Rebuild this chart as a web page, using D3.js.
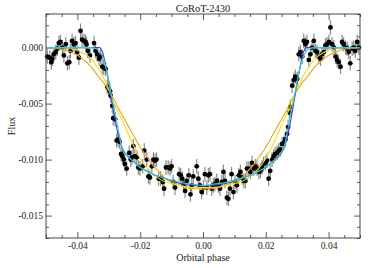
<!DOCTYPE html>
<html>
<head>
<meta charset="utf-8">
<script src="https://cdn.jsdelivr.net/npm/d3@7"></script>
<style>
  html, body { margin: 0; padding: 0; background: #fff; }
  svg { display: block; font-family: "Liberation Serif", "DejaVu Serif", serif; }
</style>
</head>
<body>
<div id="chart"></div>
<script>
// binned light curve (orbital phase, relative flux)
const phase = [
  -0.0496,-0.0488,-0.0483,-0.0480,-0.0475,-0.0469,-0.0464,-0.0459,-0.0454,-0.0448,
  -0.0443,-0.0437,-0.0432,-0.0426,-0.0422,-0.0417,-0.0411,-0.0406,-0.0401,-0.0395,
  -0.0390,-0.0385,-0.0379,-0.0374,-0.0371,-0.0367,-0.0360,-0.0347,-0.0342,-0.0337,
  -0.0331,-0.0326,-0.0321,-0.0316,-0.0310,-0.0305,-0.0300,-0.0296,-0.0294,-0.0289,
  -0.0286,-0.0280,-0.0275,-0.0270,-0.0266,-0.0261,-0.0257,-0.0252,-0.0249,-0.0243,
  -0.0235,-0.0230,-0.0226,-0.0222,-0.0217,-0.0211,-0.0206,-0.0201,-0.0192,-0.0187,
  -0.0179,-0.0174,-0.0169,-0.0163,-0.0158,-0.0153,-0.0148,-0.0141,-0.0135,-0.0128,
  -0.0124,-0.0118,-0.0111,-0.0105,-0.0100,-0.0095,-0.0089,-0.0076,-0.0071,-0.0066,
  -0.0062,-0.0057,-0.0052,-0.0045,-0.0040,-0.0036,-0.0031,-0.0020,-0.0015,-0.0010,
  -0.0004,0.0001,0.0006,0.0012,0.0017,0.0022,0.0028,0.0033,0.0038,0.0044,
  0.0049,0.0054,0.0060,0.0065,0.0070,0.0076,0.0081,0.0086,0.0091,0.0097,
  0.0102,0.0108,0.0114,0.0119,0.0124,0.0130,0.0135,0.0140,0.0146,0.0151,
  0.0156,0.0162,0.0167,0.0172,0.0178,0.0183,0.0188,0.0193,0.0199,0.0204,
  0.0209,0.0214,0.0220,0.0225,0.0230,0.0236,0.0241,0.0246,0.0252,0.0257,
  0.0262,0.0268,0.0271,0.0275,0.0278,0.0284,0.0289,0.0294,0.0300,0.0305,
  0.0310,0.0316,0.0321,0.0326,0.0331,0.0337,0.0342,0.0347,0.0353,0.0358,
  0.0363,0.0369,0.0374,0.0379,0.0385,0.0390,0.0395,0.0401,0.0406,0.0411,
  0.0417,0.0422,0.0427,0.0432,0.0438,0.0443,0.0448,0.0454,0.0459,0.0464,
  0.0469,0.0475,0.0480,0.0485,0.0491,0.0496
];
const flux = [
  -0.0008,-0.0009,-0.0013,-0.0010,-0.0006,-0.0004,-0.0001,0.0004,0.0005,0.0000,
  -0.0007,0.0003,-0.0014,-0.0013,-0.0003,0.0006,0.0003,0.0004,-0.0004,-0.0009,
  0.0015,0.0007,0.0006,0.0005,0.0003,-0.0003,-0.0007,0.0004,-0.0003,-0.0006,
  -0.0010,-0.0008,-0.0017,-0.0018,-0.0019,-0.0035,-0.0037,-0.0039,-0.0043,-0.0052,
  -0.0063,-0.0064,-0.0083,-0.0082,-0.0084,-0.0095,-0.0097,-0.0100,-0.0104,-0.0108,
  -0.0094,-0.0100,-0.0098,-0.0088,-0.0097,-0.0098,-0.0107,-0.0108,-0.0106,-0.0092,
  -0.0100,-0.0115,-0.0116,-0.0106,-0.0100,-0.0101,-0.0100,-0.0117,-0.0117,-0.0120,
  -0.0126,-0.0107,-0.0107,-0.0108,-0.0106,-0.0120,-0.0125,-0.0113,-0.0114,-0.0117,
  -0.0122,-0.0128,-0.0119,-0.0114,-0.0131,-0.0123,-0.0115,-0.0106,-0.0117,-0.0123,
  -0.0129,-0.0125,-0.0113,-0.0125,-0.0114,-0.0113,-0.0126,-0.0123,-0.0122,-0.0119,
  -0.0123,-0.0126,-0.0120,-0.0111,-0.0119,-0.0134,-0.0135,-0.0126,-0.0113,-0.0129,
  -0.0120,-0.0123,-0.0114,-0.0111,-0.0116,-0.0119,-0.0119,-0.0108,-0.0108,-0.0111,
  -0.0103,-0.0108,-0.0106,-0.0108,-0.0111,-0.0110,-0.0107,-0.0104,-0.0103,-0.0101,
  -0.0117,-0.0110,-0.0100,-0.0097,-0.0095,-0.0094,-0.0092,-0.0091,-0.0086,-0.0085,
  -0.0082,-0.0077,-0.0071,-0.0058,-0.0053,-0.0034,-0.0029,-0.0026,-0.0028,-0.0006,
  -0.0004,-0.0008,0.0006,0.0003,0.0005,-0.0011,-0.0006,0.0000,0.0006,-0.0003,
  -0.0004,-0.0008,-0.0010,-0.0006,-0.0004,0.0002,0.0003,0.0005,0.0018,0.0003,
  0.0000,-0.0008,-0.0011,-0.0013,-0.0017,0.0005,0.0003,0.0000,-0.0001,-0.0004,
  -0.0014,-0.0001,0.0000,-0.0003,0.0005,0.0000
];
const fluxErr = 0.00065;

// model transit curves sampled on a common phase grid
const modelPhase = [
  -0.050,-0.046,-0.042,-0.038,-0.036,-0.034,-0.033,-0.032,-0.031,-0.030,-0.029,-0.028,-0.027,
  -0.026,-0.025,-0.024,-0.022,-0.020,-0.018,-0.016,-0.014,-0.012,-0.009,-0.006,-0.003,0,
  0.003,0.006,0.009,0.012,0.014,0.016,0.018,0.020,0.022,0.024,0.025,0.026,
  0.027,0.028,0.029,0.030,0.031,0.032,0.033,0.034,0.036,0.038,0.042,0.046,0.050
];
const modelOrange = [
  0,-0.0001,-0.0004,-0.0011,-0.0016,-0.0023,-0.0027,-0.0030,-0.0034,-0.0038,-0.0043,-0.0048,-0.0054,
  -0.0059,-0.0064,-0.0069,-0.0079,-0.0089,-0.0097,-0.0105,-0.0111,-0.0117,-0.0121,-0.0124,-0.0126,-0.0126,
  -0.0126,-0.0124,-0.0121,-0.0117,-0.0111,-0.0105,-0.0097,-0.0089,-0.0079,-0.0069,-0.0064,-0.0059,
  -0.0054,-0.0048,-0.0043,-0.0038,-0.0034,-0.0030,-0.0027,-0.0023,-0.0016,-0.0011,-0.0004,-0.0001,0
];
const modelYellow = [
  0,0,-0.0001,-0.0005,-0.0009,-0.0016,-0.0020,-0.0025,-0.0031,-0.0037,-0.0045,-0.0052,-0.0058,
  -0.0063,-0.0069,-0.0076,-0.0088,-0.0099,-0.0107,-0.0113,-0.0117,-0.0120,-0.0122,-0.0124,-0.0125,-0.0125,
  -0.0125,-0.0124,-0.0122,-0.0120,-0.0117,-0.0113,-0.0107,-0.0099,-0.0088,-0.0076,-0.0069,-0.0063,
  -0.0058,-0.0052,-0.0045,-0.0037,-0.0031,-0.0025,-0.0020,-0.0016,-0.0009,-0.0005,-0.0001,0,0
];
const modelPurple = [
  0,0,0,0,0,0,0,-0.0004,-0.0016,-0.0031,-0.0048,-0.0064,-0.0078,
  -0.0088,-0.0094,-0.0097,-0.0102,-0.0107,-0.0110,-0.0113,-0.0115,-0.0117,-0.0120,-0.0122,-0.0123,-0.0124,
  -0.0123,-0.0122,-0.0120,-0.0117,-0.0115,-0.0113,-0.0110,-0.0107,-0.0102,-0.0097,-0.0094,-0.0088,
  -0.0078,-0.0064,-0.0048,-0.0031,-0.0016,-0.0004,0,0,0,0,0,0,0
];
const modelCyan = [
  0,0,0,0,0,-0.0001,-0.0003,-0.0008,-0.0017,-0.0030,-0.0045,-0.0058,-0.0073,
  -0.0087,-0.0093,-0.0097,-0.0102,-0.0107,-0.0110,-0.0113,-0.0115,-0.0117,-0.0119,-0.0121,-0.0122,-0.0123,
  -0.0122,-0.0121,-0.0119,-0.0117,-0.0115,-0.0113,-0.0110,-0.0107,-0.0102,-0.0097,-0.0093,-0.0087,
  -0.0073,-0.0058,-0.0045,-0.0030,-0.0017,-0.0008,-0.0003,-0.0001,0,0,0,0,0
];

const xMajor = [-0.04, -0.02, 0.00, 0.02, 0.04];
const xLabels = ["-0.04", "-0.02", "0.00", "0.02", "0.04"];
const yMajor = [0.000, -0.005, -0.010, -0.015];
const yLabels = ["0.000", "-0.005", "-0.010", "-0.015"];

const width = 374, height = 268;
const margin = { top: 14, right: 14, bottom: 30, left: 46 };
const innerW = width - margin.left - margin.right;
const innerH = height - margin.top - margin.bottom;

const svg = d3.select("#chart").append("svg")
    .attr("width", width)
    .attr("height", height);

const g = svg.append("g")
    .attr("transform", `translate(${margin.left},${margin.top})`);

const x = d3.scaleLinear().domain([-0.05, 0.05]).range([0, innerW]);
const y = d3.scaleLinear().domain([-0.017, 0.003]).range([innerH, 0]);

const xMinor = d3.range(-50, 51, 5).map(d => d / 1000).filter(d => !xMajor.some(m => Math.abs(m - d) < 1e-9));
const yMinor = d3.range(-17, 4, 1).map(d => d / 1000).filter(d => !yMajor.some(m => Math.abs(m - d) < 1e-9));

const fmt = (ticks, labels) => d => labels[ticks.findIndex(t => Math.abs(t - d) < 1e-9)];

// axes, ticks pointing inward on all four sides
g.append("g").attr("transform", `translate(0,${innerH})`)
    .call(d3.axisBottom(x).tickValues(xMajor).tickSize(-6).tickSizeOuter(0).tickPadding(4).tickFormat(fmt(xMajor, xLabels)));
g.append("g").attr("transform", `translate(0,${innerH})`)
    .call(d3.axisBottom(x).tickValues(xMinor).tickSize(-3).tickSizeOuter(0).tickFormat(""));
g.append("g")
    .call(d3.axisTop(x).tickValues(xMajor).tickSize(-6).tickSizeOuter(0).tickFormat(""));
g.append("g")
    .call(d3.axisTop(x).tickValues(xMinor).tickSize(-3).tickSizeOuter(0).tickFormat(""));
g.append("g")
    .call(d3.axisLeft(y).tickValues(yMajor).tickSize(-6).tickSizeOuter(0).tickPadding(3).tickFormat(fmt(yMajor, yLabels)));
g.append("g")
    .call(d3.axisLeft(y).tickValues(yMinor).tickSize(-3).tickSizeOuter(0).tickFormat(""));
g.append("g").attr("transform", `translate(${innerW},0)`)
    .call(d3.axisRight(y).tickValues(yMajor).tickSize(-6).tickSizeOuter(0).tickFormat(""));
g.append("g").attr("transform", `translate(${innerW},0)`)
    .call(d3.axisRight(y).tickValues(yMinor).tickSize(-3).tickSizeOuter(0).tickFormat(""));

g.selectAll(".domain").remove();
g.selectAll(".tick line").attr("stroke", "#333").attr("stroke-width", 0.8);
g.selectAll(".tick text")
    .attr("fill", "#222")
    .style("font-family", "'Liberation Serif', serif")
    .style("font-size", "9.5px");

// data: error bars then points
const pts = phase.map((p, i) => ({ p, f: flux[i] }));

g.append("g").selectAll("line")
    .data(pts)
    .join("line")
    .attr("x1", d => x(d.p)).attr("x2", d => x(d.p))
    .attr("y1", d => y(d.f - fluxErr)).attr("y2", d => y(d.f + fluxErr))
    .attr("stroke", "#8a8a8a")
    .attr("stroke-width", 1.2);

g.append("g").selectAll("circle")
    .data(pts)
    .join("circle")
    .attr("cx", d => x(d.p))
    .attr("cy", d => y(d.f))
    .attr("r", 2.4)
    .attr("fill", "#000");

// model curves
const line = d3.line()
    .x((d, i) => x(modelPhase[i]))
    .y(d => y(d))
    .curve(d3.curveMonotoneX);

const models = [
    { values: modelOrange, color: "#f5a21c" },
    { values: modelYellow, color: "#f2df10" },
    { values: modelPurple, color: "#5a2fd0" },
    { values: modelCyan, color: "#22d6cf" }
];

models.forEach(m => {
    g.append("path")
        .datum(m.values)
        .attr("fill", "none")
        .attr("stroke", m.color)
        .attr("stroke-width", 1.1)
        .attr("d", line);
});

// frame
g.append("rect")
    .attr("width", innerW)
    .attr("height", innerH)
    .attr("fill", "none")
    .attr("stroke", "#333")
    .attr("stroke-width", 0.9);

// labels
svg.append("text")
    .attr("x", margin.left + innerW / 2)
    .attr("y", 11.5)
    .attr("text-anchor", "middle")
    .attr("fill", "#222")
    .style("font-size", "10.5px")
    .text("CoRoT-2430");

svg.append("text")
    .attr("x", margin.left + innerW / 2)
    .attr("y", 260.5)
    .attr("text-anchor", "middle")
    .attr("fill", "#222")
    .style("font-size", "10px")
    .text("Orbital phase");

svg.append("text")
    .attr("transform", `translate(15,${margin.top + innerH / 2}) rotate(-90)`)
    .attr("text-anchor", "middle")
    .attr("fill", "#222")
    .style("font-size", "10px")
    .text("Flux");
</script>
</body>
</html>
